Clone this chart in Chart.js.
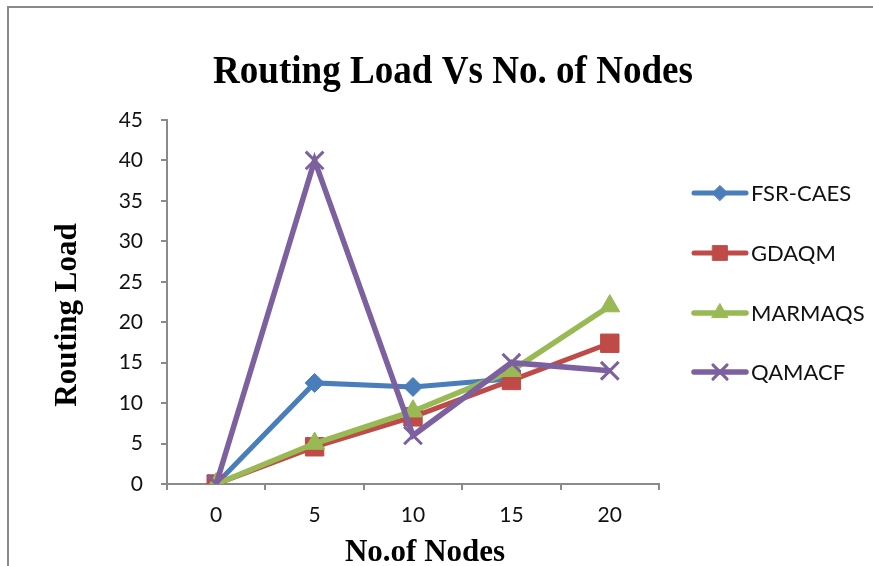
<!DOCTYPE html>
<html>
<head>
<meta charset="utf-8">
<script src="https://cdn.jsdelivr.net/npm/chart.js@4"></script>
<style>
  body { margin: 0; background: #fff; }
  #wrap { position: relative; width: 873px; height: 566px; }
  #frame { position: absolute; left: 7px; top: 6px; right: -10px; bottom: -10px; border-left: 2px solid #8a8a8a; border-top: 2px solid #8a8a8a; }
  canvas { position: absolute; left: 0; top: 0; }
</style>
</head>
<body>
<div id="wrap">
  <div id="frame"></div>
  <canvas id="chart" width="873" height="566"></canvas>
</div>
<script>
const nodes = ['0', '5', '10', '15', '20'];
const fsrCaes = [0, 12.5, 12, 13, null];
const gdaqm = [0, 4.6, 8.3, 12.8, 17.4];
const marmaqs = [0, 5, 9, 14, 22];
const qamacf = [0, 40, 6, 15, 14];
const yTicks = [0, 5, 10, 15, 20, 25, 30, 35, 40, 45];

const tickFont = { family: 'Lato, "Liberation Sans", sans-serif', size: 21 };

const seriesList = [
    { label: 'FSR-CAES', data: fsrCaes, color: '#4a7ebb', point: 'rectRot', radius: 9.5, width: 5, order: 4 },
    { label: 'GDAQM', data: gdaqm, color: '#be4b48', point: 'rect', radius: 13, width: 5, order: 3 },
    { label: 'MARMAQS', data: marmaqs, color: '#98b954', point: 'triangle', radius: 11.5, width: 5.5, order: 2 },
    { label: 'QAMACF', data: qamacf, color: '#7d60a0', point: 'crossRot', radius: 12.5, width: 5.5, order: 1 }
];

// title, axis titles and legend drawn by hand
const decorations = {
    id: 'decorations',
    afterDraw(chart) {
        const ctx = chart.ctx;
        ctx.save();
        ctx.fillStyle = '#000';
        ctx.textAlign = 'center';
        ctx.textBaseline = 'alphabetic';
        ctx.font = 'bold 40px "Liberation Serif", serif';
        ctx.fillText('Routing Load Vs No. of Nodes', 453, 83, 480);

        ctx.font = 'bold 31px "Liberation Serif", serif';
        ctx.fillText('No.of Nodes', 425, 561, 166);

        ctx.save();
        ctx.translate(76, 315);
        ctx.rotate(-Math.PI / 2);
        ctx.fillText('Routing Load', 0, 0, 190);
        ctx.restore();

        const rows = [193, 253, 313, 372];
        ctx.font = '22px Lato, "Liberation Sans", sans-serif';
        ctx.textAlign = 'left';
        ctx.textBaseline = 'middle';
        seriesList.forEach((s, i) => {
            const y = rows[i];
            ctx.strokeStyle = s.color;
            ctx.lineWidth = s.width;
            ctx.lineCap = 'round';
            ctx.beginPath();
            ctx.moveTo(694, y);
            ctx.lineTo(746, y);
            ctx.stroke();
            ctx.fillStyle = s.color;
            ctx.lineWidth = s.point === 'crossRot' ? 3 : 1;
            Chart.helpers.drawPoint(ctx, { pointStyle: s.point, radius: s.radius * 0.8, borderWidth: ctx.lineWidth }, 720, y);
            ctx.fillStyle = '#111';
            ctx.fillText(s.label, 751, y + 1);
        });
        ctx.restore();
    }
};

new Chart(document.getElementById('chart'), {
    type: 'line',
    data: {
        labels: nodes,
        datasets: seriesList.map(s => ({
            label: s.label,
            data: s.data,
            order: s.order,
            borderColor: s.color,
            backgroundColor: s.color,
            borderWidth: s.width,
            pointStyle: s.point,
            pointRadius: s.radius,
            pointBorderWidth: s.point === 'crossRot' ? 3 : 1,
            pointBorderColor: s.color,
            pointBackgroundColor: s.color,
            tension: 0
        }))
    },
    options: {
        responsive: false,
        animation: false,
        layout: { padding: { top: 120, right: 214, bottom: 0, left: 0 } },
        plugins: { legend: { display: false }, title: { display: false }, tooltip: { enabled: false } },
        scales: {
            x: {
                offset: true,
                grid: { drawOnChartArea: false, offset: true, color: '#8a8a8a', lineWidth: 2, tickLength: 6 },
                border: { color: '#8a8a8a', width: 2 },
                ticks: { color: '#111', font: tickFont, padding: 13, maxRotation: 0 },
                afterFit(scale) { scale.height = 82; }
            },
            y: {
                min: 0,
                max: 45,
                afterBuildTicks(scale) { scale.ticks = yTicks.map(v => ({ value: v })); },
                grid: { drawOnChartArea: false, color: '#8a8a8a', lineWidth: 2, tickLength: 6 },
                border: { color: '#8a8a8a', width: 2 },
                ticks: { color: '#111', font: tickFont, padding: 18 },
                afterFit(scale) { scale.width = 167; }
            }
        }
    },
    plugins: [decorations]
});
</script>
</body>
</html>
